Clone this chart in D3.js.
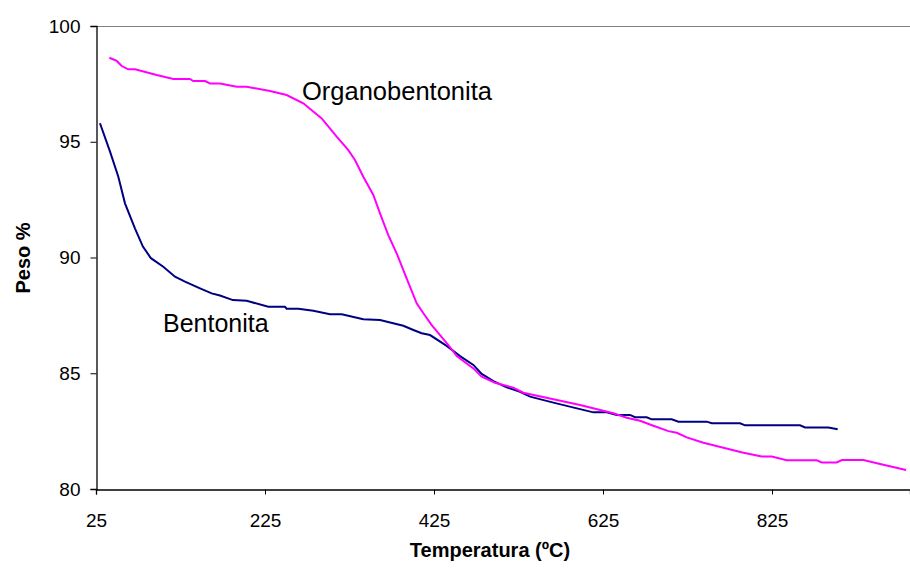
<!DOCTYPE html>
<html>
<head>
<meta charset="utf-8">
<script src="https://cdn.jsdelivr.net/npm/d3@7"></script>
<style>
  html, body { margin: 0; padding: 0; background: #fff; }
  svg { display: block; font-family: Arial, "Liberation Sans", sans-serif; }
</style>
</head>
<body>
<svg id="chart" width="910" height="571"></svg>
<script>
// ---- data ----
const xTicks = [25, 225, 425, 625, 825];
const yTicks = [80, 85, 90, 95, 100];

const bentT = [29.7, 41.6, 51.4, 59.3, 71.2, 80.5, 90, 104.6, 118.5, 130.3, 148.1, 161.9, 171.7, 187, 203.3, 228.9, 248.6, 250.6, 264.4, 282.2, 301.9, 315.8, 341.3, 361.1, 388.7, 400.6, 410.4, 420.3, 440.0, 455.8, 471.6, 481.4, 495.3, 511.0, 526.8, 538.7, 566.3, 597.8, 613.6, 629.3, 641.2, 656.9, 662.9, 676.7, 682.6, 706.3, 714.2, 747.7, 753.7, 787.2, 793.1, 858.2, 864.1, 891.7, 902.7];
const bentW = [95.80, 94.57, 93.49, 92.34, 91.25, 90.47, 89.97, 89.60, 89.17, 88.96, 88.67, 88.45, 88.36, 88.16, 88.13, 87.87, 87.87, 87.79, 87.79, 87.70, 87.55, 87.55, 87.33, 87.30, 87.05, 86.87, 86.73, 86.65, 86.18, 85.74, 85.36, 84.97, 84.66, 84.39, 84.20, 83.99, 83.73, 83.45, 83.31, 83.31, 83.20, 83.20, 83.10, 83.10, 83.01, 83.01, 82.91, 82.91, 82.84, 82.84, 82.75, 82.75, 82.66, 82.66, 82.58];

const orgT = [40.8, 49.5, 55.4, 63.2, 71.2, 96.8, 116.5, 136.2, 140.1, 154.0, 159.9, 171.7, 191.5, 203.3, 230.9, 250.6, 270.3, 292.1, 309.8, 323.6, 331.5, 341.3, 353.2, 361.1, 370.9, 380.8, 392.6, 404.5, 412.4, 422.3, 442.0, 451.9, 471.6, 481.4, 497.2, 518.8, 530.7, 597.8, 637.2, 653.0, 668.8, 684.6, 702.4, 712.2, 724.1, 743.9, 767.5, 791.2, 812.8, 824.7, 842.5, 878.0, 883.9, 901.6, 907.6, 933.2, 952.9, 983.7];
const orgW = [98.63, 98.49, 98.27, 98.13, 98.13, 97.88, 97.71, 97.71, 97.62, 97.62, 97.52, 97.52, 97.38, 97.38, 97.19, 97.02, 96.66, 96.01, 95.22, 94.64, 94.21, 93.49, 92.70, 91.91, 90.97, 90.18, 89.10, 88.02, 87.59, 87.08, 86.22, 85.74, 85.21, 84.85, 84.59, 84.38, 84.16, 83.63, 83.27, 83.08, 82.95, 82.73, 82.50, 82.43, 82.23, 82.00, 81.78, 81.57, 81.40, 81.40, 81.24, 81.24, 81.15, 81.15, 81.25, 81.25, 81.08, 80.82];

const seriesNames = ["Bentonita", "Organobentonita"];
const xTitle = "Temperatura (ºC)";
const yTitle = "Peso %";

// ---- layout ----
const svg = d3.select("#chart");
const L = 96, R = 910, T = 26, B = 489;

const x = d3.scaleLinear().domain([25, 988.3]).range([L, R]);
const y = d3.scaleLinear().domain([80, 100]).range([B, T]);

// top border (gray)
svg.append("line")
  .attr("x1", L).attr("x2", R).attr("y1", T + 0.5).attr("y2", T + 0.5)
  .attr("stroke", "#808080").attr("stroke-width", 1);

// axes
const yAxis = d3.axisLeft(y).tickValues(yTicks).tickSize(6).tickPadding(10).tickFormat(d3.format("d"));
const xAxis = d3.axisBottom(x).tickValues(xTicks).tickSize(5).tickPadding(19).tickFormat(d3.format("d"));

const gy = svg.append("g").attr("transform", `translate(${L + 0.5},0)`).call(yAxis);
const gx = svg.append("g").attr("transform", `translate(0,${B + 0.5})`).call(xAxis);

[gx, gy].forEach(g => {
  g.select(".domain").attr("stroke", "#000").attr("stroke-width", 1.3);
  g.selectAll(".tick line").attr("stroke", "#000");
  g.selectAll(".tick text").attr("fill", "#000").style("font-size", "19px")
    .style("font-family", "Arial, 'Liberation Sans', sans-serif");
});

// lines
const line = d3.line().x(d => x(d[0])).y(d => y(d[1]));
const bentData = bentT.map((t, i) => [t, bentW[i]]);
const orgData = orgT.map((t, i) => [t, orgW[i]]);

svg.append("path").datum(bentData)
  .attr("d", line).attr("fill", "none").attr("stroke", "#000080").attr("stroke-width", 2);
svg.append("path").datum(orgData)
  .attr("d", line).attr("fill", "none").attr("stroke", "#FF00FF").attr("stroke-width", 2);

// series labels
svg.append("text").attr("x", 302).attr("y", 99.5)
  .style("font-size", "25.5px").attr("fill", "#000").text(seriesNames[1]);
svg.append("text").attr("x", 163).attr("y", 332)
  .style("font-size", "25px").attr("fill", "#000").text(seriesNames[0]);

// axis titles
svg.append("text")
  .attr("transform", "translate(30,258) rotate(-90)")
  .attr("text-anchor", "middle")
  .style("font-size", "20px").style("font-weight", "bold")
  .text(yTitle);

svg.append("text")
  .attr("x", 490).attr("y", 557)
  .attr("text-anchor", "middle")
  .style("font-size", "20px").style("font-weight", "bold")
  .text(xTitle);
</script>
</body>
</html>
